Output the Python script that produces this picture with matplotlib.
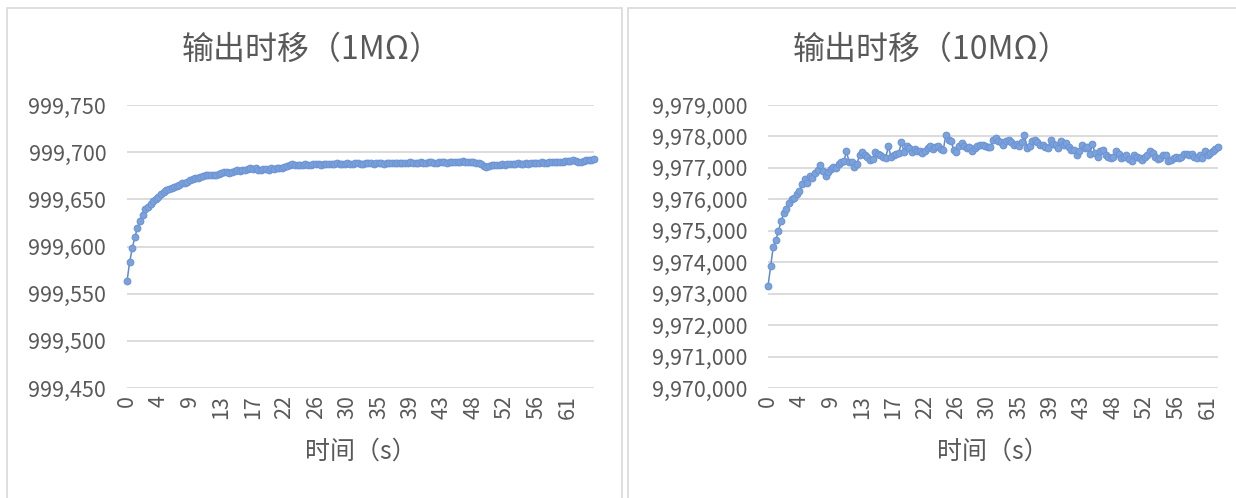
import matplotlib
matplotlib.use("Agg")
import matplotlib.pyplot as plt
from matplotlib.patches import Rectangle
from matplotlib.ticker import FuncFormatter
import numpy as np

plt.rcParams['font.family'] = ['Noto Sans CJK SC', 'DejaVu Sans']

# -------------------------------------------------------------------------------------------------------------------- #
# data (one point per sample)

# time labels shown under every 12th sample
time_labels = ['0', '4', '9', '13', '17', '22', '26', '30', '35', '39', '43', '48', '52', '56', '61']

titles = ['输出时移（1MΩ）', '输出时移（10MΩ）']
xlabel = '时间（s）'

out_1m = [
    999563.0, 999583.5, 999598.0, 999610.0, 999620.0, 999627.0, 999633.0, 999640.0, 999642.0, 999645.0,
    999648.0, 999650.5, 999653.0, 999655.5, 999657.6, 999659.4, 999660.8, 999661.8, 999662.9, 999664.3,
    999665.4, 999666.8, 999667.8, 999668.9, 999670.3, 999671.7, 999672.4, 999672.8, 999673.5, 999674.5,
    999675.6, 999676.0, 999676.3, 999676.3, 999676.0, 999676.7, 999677.4, 999678.8, 999679.5, 999678.4,
    999678.8, 999679.8, 999680.9, 999680.5, 999680.9, 999681.2, 999682.0, 999682.7, 999682.4, 999683.0,
    999681.6, 999681.2, 999682.4, 999682.4, 999681.6, 999682.7, 999682.4, 999683.0, 999683.0, 999683.7,
    999684.4, 999685.1, 999686.5, 999687.2, 999686.5, 999686.5, 999686.0, 999686.8, 999687.3, 999686.9,
    999686.5, 999687.2, 999687.6, 999687.1, 999686.8, 999687.5, 999687.9, 999687.4, 999687.0, 999687.6,
    999688.0, 999687.6, 999687.2, 999687.8, 999688.1, 999687.7, 999687.3, 999688.0, 999688.4, 999687.9,
    999687.6, 999688.2, 999688.5, 999688.0, 999687.7, 999688.3, 999688.6, 999688.1, 999687.8, 999688.4,
    999688.8, 999688.3, 999688.0, 999688.6, 999688.9, 999688.5, 999688.2, 999688.8, 999689.1, 999688.6,
    999688.3, 999688.9, 999689.3, 999688.8, 999688.5, 999689.1, 999689.4, 999688.9, 999688.7, 999689.3,
    999689.6, 999689.1, 999688.9, 999689.5, 999689.9, 999689.4, 999689.2, 999689.8, 999690.3, 999689.9,
    999689.6, 999690.1, 999689.5, 999688.9, 999688.3, 999687.2, 999685.6, 999684.3, 999685.2, 999686.2,
    999686.8, 999686.5, 999686.9, 999687.3, 999686.9, 999687.2, 999687.7, 999687.3, 999687.5, 999688.0,
    999687.6, 999687.8, 999688.3, 999687.9, 999688.1, 999688.7, 999688.3, 999688.5, 999689.1, 999688.7,
    999689.0, 999689.6, 999689.2, 999689.5, 999690.1, 999689.7, 999690.0, 999690.6, 999690.3, 999690.8,
    999691.2, 999690.6, 999690.0, 999689.6, 999690.4, 999691.2, 999691.6, 999691.3, 999692.6,
]

out_10m = [
    9973240, 9973869, 9974487, 9974700, 9974998, 9975296, 9975552, 9975679, 9975871, 9976010,
    9976031, 9976169, 9976265, 9976489, 9976649, 9976510, 9976755, 9976691, 9976830, 9976936,
    9977096, 9976904, 9976755, 9976883, 9976968, 9977042, 9976989, 9977117, 9977192, 9977224,
    9977522, 9977181, 9977200, 9977042, 9977117, 9977415, 9977501, 9977394, 9977360, 9977256,
    9977277, 9977490, 9977437, 9977394, 9977341, 9977330, 9977682, 9977360, 9977415, 9977437,
    9977469, 9977820, 9977501, 9977682, 9977628, 9977501, 9977607, 9977543, 9977522, 9977469,
    9977543, 9977628, 9977682, 9977607, 9977650, 9977682, 9977607, 9977575, 9978054, 9977895,
    9977841, 9977575, 9977500, 9977682, 9977788, 9977682, 9977628, 9977650, 9977543, 9977628,
    9977682, 9977735, 9977714, 9977703, 9977660, 9977650, 9977895, 9977948, 9977863, 9977820,
    9977735, 9977863, 9977895, 9977820, 9977714, 9977756, 9977682, 9977820, 9978054, 9977628,
    9977682, 9977841, 9977895, 9977820, 9977735, 9977714, 9977650, 9977628, 9977895, 9977756,
    9977714, 9977628, 9977863, 9977714, 9977788, 9977650, 9977575, 9977575, 9977394, 9977543,
    9977714, 9977628, 9977650, 9977437, 9977756, 9977469, 9977362, 9977522, 9977575, 9977415,
    9977362, 9977330, 9977362, 9977543, 9977437, 9977309, 9977362, 9977394, 9977287, 9977224,
    9977394, 9977362, 9977330, 9977256, 9977362, 9977415, 9977522, 9977469, 9977362, 9977287,
    9977330, 9977415, 9977394, 9977224, 9977256, 9977309, 9977362, 9977330, 9977362, 9977437,
    9977437, 9977415, 9977437, 9977362, 9977330, 9977394, 9977309, 9977543, 9977394, 9977469,
    9977522, 9977600, 9977650,
]

yticks_1m = [999450, 999500, 999550, 999600, 999650, 999700, 999750]
yticks_10m = [9970000, 9971000, 9972000, 9973000, 9974000, 9975000, 9976000, 9977000, 9978000, 9979000]

# -------------------------------------------------------------------------------------------------------------------- #

W, H = 1236, 498
TXT = '#595959'
GRID = '#d9d9d9'
BLUE = '#5b8bd0'

fig = plt.figure(figsize=(W / 100, H / 100), dpi=100)
fig.patch.set_facecolor('white')

# chart frames
fig.add_artist(Rectangle((7 / W, -0.01), (622 - 7) / W, 1.01 - 8 / H, transform=fig.transFigure,
                         fill=False, edgecolor=GRID, linewidth=1.2))
fig.add_artist(Rectangle((628 / W, -0.01), (W + 5 - 628) / W, 1.01 - 8 / H, transform=fig.transFigure,
                         fill=False, edgecolor=GRID, linewidth=1.2))


# Draws one Excel-like line chart
def panel(x0, x1, vals, yticks, title, frame_mid):
    ax = fig.add_axes([x0 / W, 1 - 388 / H, (x1 - x0) / W, (388 - 105) / H])
    idx = np.arange(len(vals))
    ax.plot(idx, vals, '-o', color=BLUE, lw=1.1, markersize=4.8,
            markerfacecolor='#7ca2dc', markeredgecolor='#6d94d4', markeredgewidth=0.8, clip_on=False, zorder=3)
    ax.set_xlim(0, len(vals) - 1)
    ax.set_ylim(yticks[0], yticks[-1])
    ax.set_yticks(yticks)
    ax.yaxis.set_major_formatter(FuncFormatter(lambda v, p: '{:,.0f}'.format(v)))
    ax.set_xticks(idx[::12][:len(time_labels)])
    ax.set_xticklabels(time_labels, rotation=90, va='top', ha='center')
    ax.grid(axis='y', color=GRID, lw=1.3)
    ax.set_axisbelow(True)
    for s in ax.spines.values():
        s.set_visible(False)
    ax.tick_params(axis='both', length=0, colors=TXT, labelsize=15.5)
    ax.tick_params(axis='y', pad=15)
    ax.tick_params(axis='x', pad=5)
    fig.text(frame_mid / W, 1 - 50 / H, title, ha='center', va='center', fontsize=23, color=TXT)
    fig.text((x0 + x1) / 2 / W, 1 - 452 / H, xlabel, ha='center', va='center', fontsize=18, color=TXT)
    return ax


panel(127, 594, out_1m, yticks_1m, titles[0], 312)
panel(768, 1218, out_10m, yticks_10m, titles[1], 932)

fig.savefig('out.png', dpi=100, facecolor='white')
